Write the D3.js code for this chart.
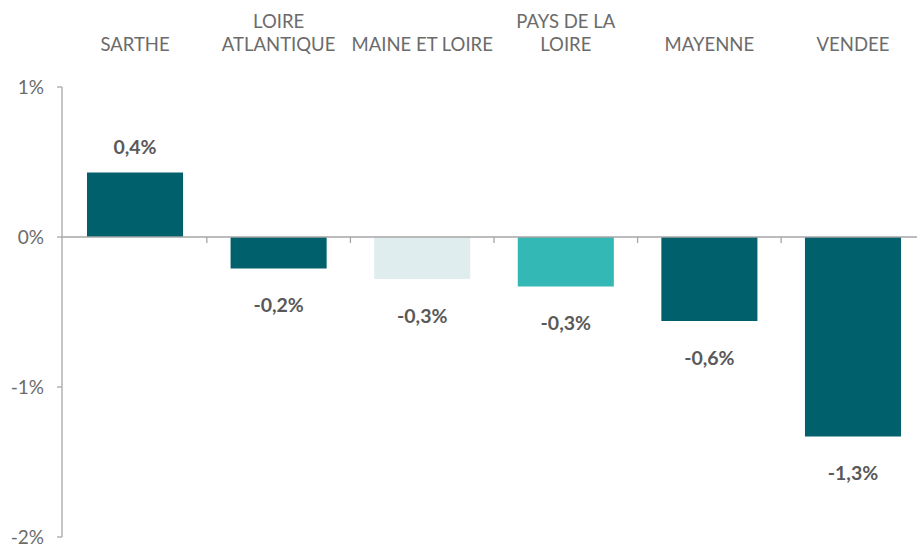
<!DOCTYPE html>
<html><head><meta charset="utf-8">
<script src="https://cdn.jsdelivr.net/npm/d3@7"></script>
<style>body{margin:0;background:#fff}svg{display:block}</style>
</head><body>
<svg id="c" width="917" height="545"></svg>
<script>
const categories = [["SARTHE"],["LOIRE","ATLANTIQUE"],["MAINE ET LOIRE"],["PAYS DE LA","LOIRE"],["MAYENNE"],["VENDEE"]];
const values = [0.43, -0.21, -0.28, -0.33, -0.56, -1.33];
const valueLabels = ["0,4%","-0,2%","-0,3%","-0,3%","-0,6%","-1,3%"];
const colors = ["#00606B","#00606B","#E0EDEE","#33B8B5","#00606B","#00606B"];
const yTicks = [1, 0, -1, -2];
const yTickLabels = ["1%","0%","-1%","-2%"];

const svg = d3.select("#c");
const font = "Lato, 'Open Sans', sans-serif";
const x = d3.scaleBand().domain(d3.range(categories.length)).range([62, 926]).paddingInner(0.331).paddingOuter(0.174);
const y = d3.scaleLinear().domain([-2, 1]).range([537, 87]);
const step = x.step();

// y axis
svg.append("line").attr("x1",62).attr("x2",62).attr("y1",y(1)).attr("y2",y(-2)).attr("stroke","#a6a6a6").attr("stroke-width",1.3);
yTicks.forEach((t,i)=>{
  svg.append("line").attr("x1",57).attr("x2",62).attr("y1",y(t)).attr("y2",y(t)).attr("stroke","#a6a6a6").attr("stroke-width",1.3);
  svg.append("text").attr("x",44).attr("y",y(t)).attr("dy","0.35em").attr("text-anchor","end")
    .attr("font-family",font).attr("font-size",19).attr("fill","#6b6b6b").text(yTickLabels[i]);
});

// bars
svg.selectAll("rect.bar").data(values).join("rect")
  .attr("x",(d,i)=>x(i)).attr("width",x.bandwidth())
  .attr("y",d=>y(Math.max(0,d))).attr("height",d=>Math.abs(y(d)-y(0)))
  .attr("fill",(d,i)=>colors[i]);

// zero line and category ticks
svg.append("line").attr("x1",62).attr("x2",917).attr("y1",y(0)).attr("y2",y(0)).attr("stroke","#a6a6a6").attr("stroke-width",1.3);
for(let i=1;i<categories.length;i++){
  const xb = x(i) - x.paddingInner()*step/2;
  svg.append("line").attr("x1",xb).attr("x2",xb).attr("y1",y(0)).attr("y2",y(0)+6).attr("stroke","#a6a6a6").attr("stroke-width",1.3);
}

// value labels
svg.selectAll("text.val").data(values).join("text")
  .attr("x",(d,i)=>x(i)+x.bandwidth()/2)
  .attr("y",d=> d>=0 ? y(d)-25 : y(d)+37).attr("dy","0.35em")
  .attr("text-anchor","middle").attr("font-family",font).attr("font-weight","bold")
  .attr("font-size",19.5).attr("fill","#595959").text((d,i)=>valueLabels[i]);

// category labels
categories.forEach((lines,i)=>{
  const cx = x(i)+x.bandwidth()/2;
  lines.forEach((l,j)=>{
    svg.append("text").attr("x",cx).attr("y",45 - (lines.length-1-j)*23).attr("dy","0.35em")
      .attr("text-anchor","middle").attr("font-family",font).attr("font-size",18.5).attr("fill","#6b6b6b").text(l);
  });
});
</script>
</body></html>
